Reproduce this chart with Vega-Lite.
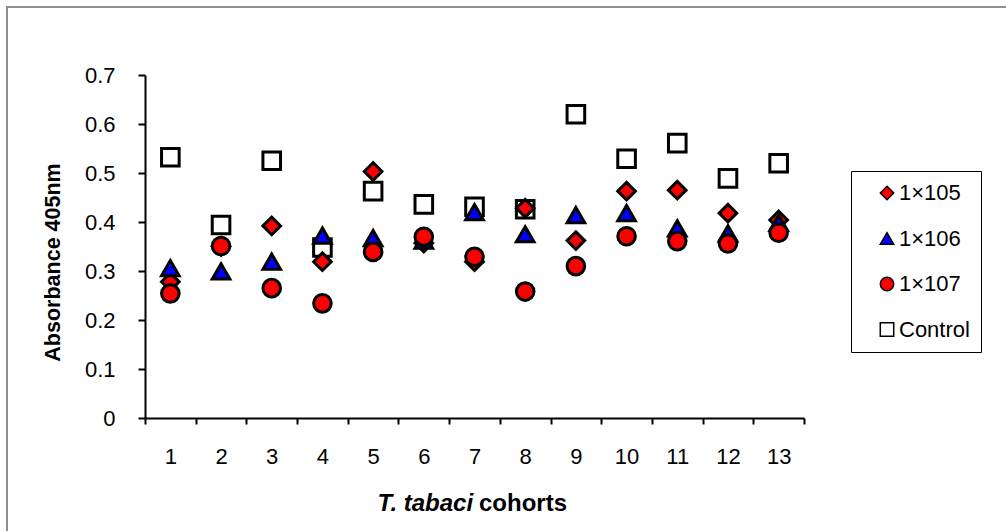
{
  "$schema": "https://vega.github.io/schema/vega-lite/v6.json",
  "width": 1002,
  "height": 527,
  "autosize": "none",
  "padding": {"left": 7, "top": 7, "right": -3, "bottom": -3},
  "background": "white",
  "view": {"stroke": "#8f8f8f", "strokeWidth": 2},
  "config": {"font": "Liberation Sans"},
  "title": {"text": "cohorts", "orient": "top", "anchor": "start", "frame": "group", "dx": 472, "dy": 528, "baseline": "alphabetic", "fontSize": 24, "fontWeight": "bold", "font": "Liberation Sans", "color": "black", "offset": 0},
  "data": {"values": [
    {"cohort": 1, "series": "Control", "value": 0.532},
    {"cohort": 2, "series": "Control", "value": 0.394},
    {"cohort": 3, "series": "Control", "value": 0.525},
    {"cohort": 4, "series": "Control", "value": 0.348},
    {"cohort": 5, "series": "Control", "value": 0.463},
    {"cohort": 6, "series": "Control", "value": 0.436},
    {"cohort": 7, "series": "Control", "value": 0.431},
    {"cohort": 8, "series": "Control", "value": 0.426},
    {"cohort": 9, "series": "Control", "value": 0.620},
    {"cohort": 10, "series": "Control", "value": 0.529},
    {"cohort": 11, "series": "Control", "value": 0.561},
    {"cohort": 12, "series": "Control", "value": 0.489},
    {"cohort": 13, "series": "Control", "value": 0.520},
    {"cohort": 1, "series": "1×105", "value": 0.278},
    {"cohort": 2, "series": "1×105", "value": 0.350},
    {"cohort": 3, "series": "1×105", "value": 0.392},
    {"cohort": 4, "series": "1×105", "value": 0.319},
    {"cohort": 5, "series": "1×105", "value": 0.503},
    {"cohort": 6, "series": "1×105", "value": 0.357},
    {"cohort": 7, "series": "1×105", "value": 0.319},
    {"cohort": 8, "series": "1×105", "value": 0.428},
    {"cohort": 9, "series": "1×105", "value": 0.362},
    {"cohort": 10, "series": "1×105", "value": 0.463},
    {"cohort": 11, "series": "1×105", "value": 0.465},
    {"cohort": 12, "series": "1×105", "value": 0.418},
    {"cohort": 13, "series": "1×105", "value": 0.404},
    {"cohort": 1, "series": "1×106", "value": 0.306},
    {"cohort": 2, "series": "1×106", "value": 0.299},
    {"cohort": 3, "series": "1×106", "value": 0.319},
    {"cohort": 4, "series": "1×106", "value": 0.372},
    {"cohort": 5, "series": "1×106", "value": 0.367},
    {"cohort": 6, "series": "1×106", "value": 0.362},
    {"cohort": 7, "series": "1×106", "value": 0.420},
    {"cohort": 8, "series": "1×106", "value": 0.375},
    {"cohort": 9, "series": "1×106", "value": 0.414},
    {"cohort": 10, "series": "1×106", "value": 0.418},
    {"cohort": 11, "series": "1×106", "value": 0.387},
    {"cohort": 12, "series": "1×106", "value": 0.377},
    {"cohort": 13, "series": "1×106", "value": 0.398},
    {"cohort": 1, "series": "1×107", "value": 0.254},
    {"cohort": 2, "series": "1×107", "value": 0.351},
    {"cohort": 3, "series": "1×107", "value": 0.265},
    {"cohort": 4, "series": "1×107", "value": 0.234},
    {"cohort": 5, "series": "1×107", "value": 0.339},
    {"cohort": 6, "series": "1×107", "value": 0.370},
    {"cohort": 7, "series": "1×107", "value": 0.329},
    {"cohort": 8, "series": "1×107", "value": 0.258},
    {"cohort": 9, "series": "1×107", "value": 0.310},
    {"cohort": 10, "series": "1×107", "value": 0.371},
    {"cohort": 11, "series": "1×107", "value": 0.361},
    {"cohort": 12, "series": "1×107", "value": 0.356},
    {"cohort": 13, "series": "1×107", "value": 0.378}
  ]},
  "mark": {"type": "point", "filled": true, "stroke": "black", "strokeWidth": 3, "size": 310, "opacity": 1},
  "encoding": {
    "x": {
      "field": "cohort", "type": "ordinal",
      "scale": {"type": "band", "paddingInner": 0, "paddingOuter": 0, "range": [138, 797]},
      "axis": {
        "offset": -116,
        "labelAngle": 0, "tickBand": "extent", "domainColor": "black", "domainWidth": 2,
        "tickColor": "black", "tickWidth": 2, "tickSize": 6, "labelFontSize": 22, "labelColor": "black",
        "labelPadding": 22, "labelFont": "Liberation Sans",
        "title": "T. tabaci", "titleFontStyle": "italic", "titleFontWeight": "bold", "titleFontSize": 24,
        "titleColor": "black", "titleFont": "Liberation Sans", "titleAlign": "left",
        "titleX": 370, "titleY": 92, "titleBaseline": "alphabetic"
      }
    },
    "y": {
      "field": "value", "type": "quantitative",
      "scale": {"domain": [0, 0.7], "nice": false, "range": [411, 68]},
      "axis": {
        "offset": -138,
        "values": [0, 0.1, 0.2, 0.3, 0.4, 0.5, 0.6, 0.7], "grid": false,
        "labelExpr": "datum.value == 0 ? '0' : format(datum.value, '.1f')",
        "domainColor": "black", "domainWidth": 2, "tickColor": "black", "tickWidth": 2, "tickSize": 7,
        "labelFontSize": 22, "labelColor": "black", "labelPadding": 23, "labelFont": "Liberation Sans",
        "title": "Absorbance 405nm", "titleFontWeight": "bold", "titleFontSize": 21.5, "titleColor": "black",
        "titleFont": "Liberation Sans", "titleAngle": 270, "titleAlign": "center", "titleBaseline": "middle",
        "titleX": -92, "titleY": 255
      }
    },
    "fill": {
      "field": "series", "type": "nominal",
      "scale": {"domain": ["1×105", "1×106", "1×107", "Control"], "range": ["#FF0000", "#0000FF", "#FF0000", "#FFFFFF"]},
      "legend": {"title": null, "orient": "none", "legendX": 844, "legendY": 164, "strokeColor": "black",
        "padding": 11, "symbolOffset": 14, "rowPadding": 23.5, "labelFontSize": 22, "labelColor": "black", "labelFont": "Liberation Sans",
        "symbolSize": 180, "labelOffset": 1,
        "encode": {"symbols": {"update": {"stroke": {"value": "black"}, "strokeWidth": {"value": 3}}}}}
    },
    "shape": {
      "field": "series", "type": "nominal",
      "scale": {"domain": ["1×105", "1×106", "1×107", "Control"], "range": ["diamond", "triangle-up", "circle", "square"]},
      "legend": {"title": null, "orient": "none", "legendX": 844, "legendY": 164, "strokeColor": "black",
        "padding": 11, "symbolOffset": 14, "rowPadding": 23.5, "labelFontSize": 22, "labelColor": "black", "labelFont": "Liberation Sans",
        "symbolSize": 180, "labelOffset": 1,
        "encode": {"symbols": {"update": {"stroke": {"value": "black"}, "strokeWidth": {"value": 3}}}}}
    }
  }
}
